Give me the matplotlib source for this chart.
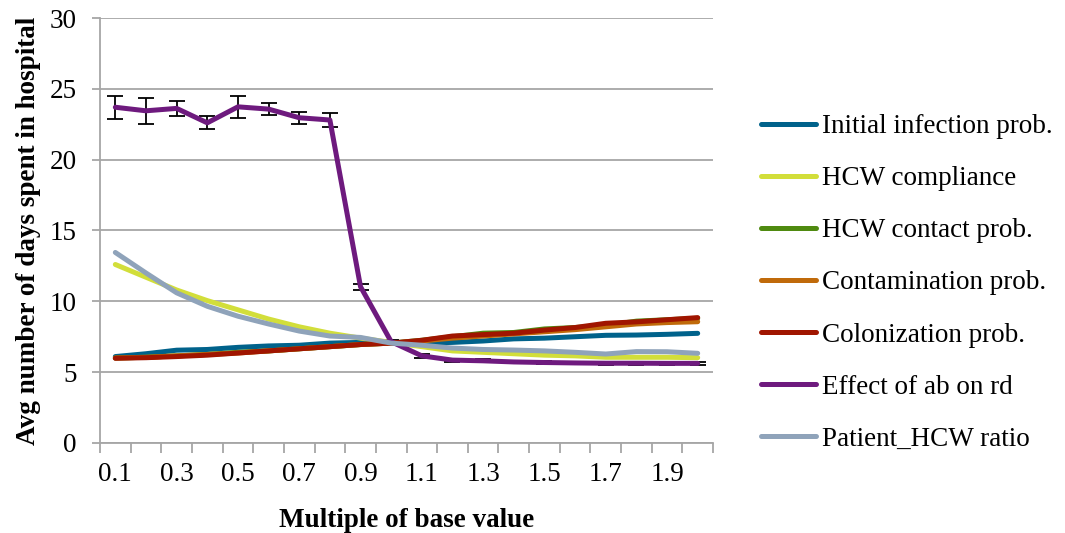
import numpy as np
import matplotlib
matplotlib.use('Agg')
import matplotlib.pyplot as plt
from matplotlib.lines import Line2D

# multiples of the base value on the x axis
multiples = ['0.1', '0.2', '0.3', '0.4', '0.5', '0.6', '0.7', '0.8', '0.9', '1.0',
             '1.1', '1.2', '1.3', '1.4', '1.5', '1.6', '1.7', '1.8', '1.9', '2.0']

# average days in hospital for each varied parameter
initial_infection = [6.1, 6.3, 6.55, 6.6, 6.75, 6.85, 6.9, 7.05, 7.1, 7.05,
                     7.05, 7.1, 7.2, 7.35, 7.4, 7.5, 7.6, 7.62, 7.67, 7.74]
hcw_compliance = [12.6, 11.7, 10.8, 10.05, 9.4, 8.75, 8.2, 7.75, 7.4, 7.1,
                  6.8, 6.5, 6.4, 6.3, 6.2, 6.15, 6.05, 6.05, 6.05, 6.02]
hcw_contact = [6.0, 6.05, 6.15, 6.25, 6.4, 6.5, 6.65, 6.8, 6.95, 7.05,
               7.25, 7.5, 7.75, 7.8, 8.05, 8.15, 8.3, 8.6, 8.7, 8.8]
contamination = [6.0, 6.05, 6.15, 6.25, 6.35, 6.5, 6.65, 6.8, 6.95, 7.05,
                  7.2, 7.4, 7.55, 7.7, 7.85, 8.0, 8.2, 8.4, 8.5, 8.56]
colonization = [5.98, 6.02, 6.1, 6.2, 6.35, 6.5, 6.65, 6.8, 6.95, 7.05,
                7.25, 7.55, 7.65, 7.75, 7.97, 8.15, 8.45, 8.55, 8.7, 8.85]
ab_effect = [23.7, 23.45, 23.62, 22.6, 23.73, 23.57, 22.96, 22.8, 11.03, 7.15,
             6.15, 5.85, 5.8, 5.72, 5.68, 5.65, 5.63, 5.63, 5.62, 5.62]
ab_effect_err = [0.8, 0.93, 0.55, 0.46, 0.79, 0.43, 0.43, 0.48, 0.22, 0.12,
                 0.12, 0.1, 0.1, 0.1, 0.1, 0.1, 0.1, 0.1, 0.1, 0.12]
patient_hcw = [13.45, 12.0, 10.6, 9.65, 8.95, 8.4, 7.9, 7.55, 7.45, 7.05,
               6.9, 6.7, 6.6, 6.56, 6.5, 6.4, 6.28, 6.45, 6.44, 6.33]

series = [
    ('Initial infection prob.', initial_infection, '#00628B'),
    ('HCW compliance', hcw_compliance, '#D2DE3A'),
    ('HCW contact prob.', hcw_contact, '#4F8A10'),
    ('Contamination prob.', contamination, '#C06A0A'),
    ('Colonization prob.', colonization, '#A01500'),
    ('Effect of ab on rd', ab_effect, '#6E1A7E'),
    ('Patient_HCW ratio', patient_hcw, '#8FA3BA'),
]

plt.rcParams['font.family'] = ['Liberation Serif', 'DejaVu Serif']
fs = 19.5

fig = plt.figure(figsize=(10.65, 5.33), dpi=100)
ax = fig.add_axes([0.0939, 0.1689, 0.5756, 0.7973])

x = np.arange(len(multiples))
lw = 3.6
handles = []
for name, vals, col in series:
    ax.plot(x, vals, color=col, lw=lw, solid_capstyle='round',
            solid_joinstyle='round', zorder=3)
    if name == 'Effect of ab on rd':
        ax.errorbar(x, vals, yerr=ab_effect_err, fmt='none', ecolor='black',
                    elinewidth=1.3, capsize=5.8, capthick=1.3, zorder=2)
    handles.append(Line2D([0], [0], color=col, lw=lw, solid_capstyle='round',
                          label=name))

ax.set_xlim(-0.5, len(multiples) - 0.5)
ax.set_ylim(0, 30)
ax.set_yticks(np.arange(0, 31, 5))
ax.yaxis.grid(True, color='#A6A6A6', lw=1.3)
ax.set_axisbelow(True)

# category labels on every other point, tick marks between categories
ax.set_xticks(x[::2])
ax.set_xticklabels(multiples[::2])
ax.set_xticks(np.arange(-0.5, len(multiples)), minor=True)
ax.tick_params(axis='x', which='major', length=0, pad=14, labelsize=fs)
ax.tick_params(axis='x', which='minor', length=7, width=1.3, color='#A6A6A6')
ax.tick_params(axis='y', length=6, width=1.3, color='#A6A6A6', pad=11,
               labelsize=fs)

for side in ['top', 'right']:
    ax.spines[side].set_visible(False)
for side in ['left', 'bottom']:
    ax.spines[side].set_color('#A6A6A6')
    ax.spines[side].set_linewidth(1.3)

ax.set_xlabel('Multiple of base value', fontsize=fs, fontweight='bold',
              labelpad=15)
ax.set_ylabel('Avg number of days spent in hospital', fontsize=fs,
              fontweight='bold', labelpad=6)

fig.legend(handles=handles, loc='upper left', bbox_to_anchor=(0.704, 0.806),
           frameon=False, fontsize=fs, handlelength=2.05, handletextpad=0.2,
           labelspacing=1.0, borderaxespad=0)

fig.savefig('out.png', dpi=100)
